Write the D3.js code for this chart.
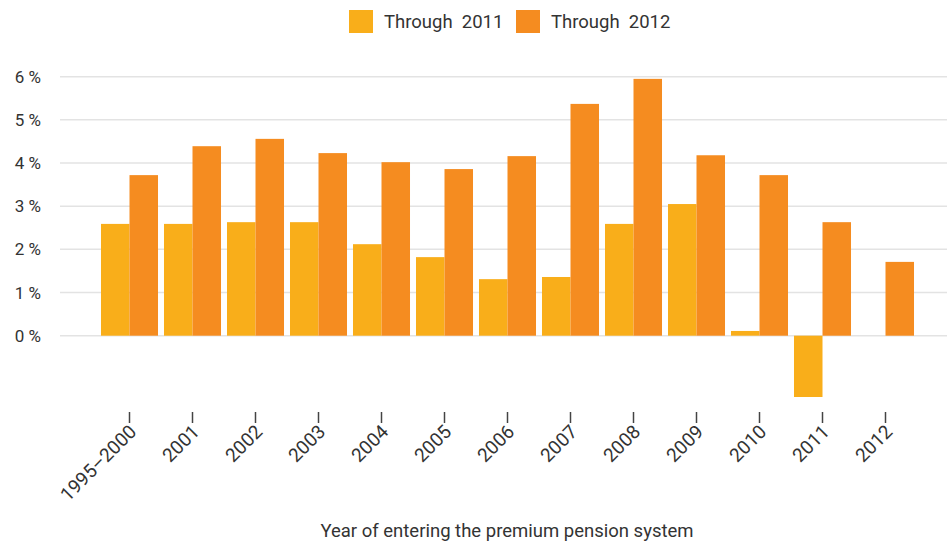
<!DOCTYPE html>
<html><head><meta charset="utf-8">
<script src="https://cdn.jsdelivr.net/npm/d3@7"></script>
<style>body{margin:0;background:#fff}svg{display:block}text{font-family:Roboto,"DejaVu Sans",sans-serif;fill:#333}</style>
</head><body><svg id="c" width="947" height="545"></svg>
<script>
const categories = ["1995–2000","2001","2002","2003","2004","2005","2006","2007","2008","2009","2010","2011","2012"];
const through2011 = [2.59,2.59,2.63,2.63,2.12,1.82,1.31,1.36,2.59,3.05,0.11,-1.42,0];
const through2012 = [3.72,4.39,4.56,4.23,4.02,3.86,4.16,5.37,5.95,4.18,3.72,2.63,1.71];
const seriesNames = ["Through  2011","Through  2012"];
const colors = ["#F9AE1A","#F58C20"];
const yTicks = [0,1,2,3,4,5,6];
const xTitle = "Year of entering the premium pension system";

const svg = d3.select("#c");
const x = d3.scaleBand().domain(categories).range([98,917]).paddingInner(0.095).paddingOuter(0.0475);
const xs = d3.scaleBand().domain([0,1]).range([0,x.bandwidth()]);
const y = d3.scaleLinear().domain([0,6]).range([335.7,76.7]);

// grid
svg.append("g").selectAll("line").data(yTicks).join("line")
  .attr("x1",60).attr("x2",947).attr("y1",d=>y(d)).attr("y2",d=>y(d))
  .attr("stroke","#e3e3e3").attr("stroke-width",1.5);
svg.append("g").selectAll("text").data(yTicks).join("text")
  .attr("x",41).attr("y",d=>y(d)+6).attr("text-anchor","end")
  .attr("font-size",17).text(d=>d+" %");

const series=[through2011,through2012];
series.forEach((vals,si)=>{
  svg.append("g").selectAll("rect").data(categories).join("rect")
    .attr("x",c=>x(c)+xs(si)).attr("width",xs.bandwidth())
    .attr("y",(c,i)=>y(Math.max(0,vals[i])))
    .attr("height",(c,i)=>Math.abs(y(vals[i])-y(0)))
    .attr("fill",colors[si]);
});

// x ticks
const xa = svg.append("g");
xa.selectAll("line").data(categories).join("line")
  .attr("x1",c=>x(c)+x.bandwidth()/2).attr("x2",c=>x(c)+x.bandwidth()/2)
  .attr("y1",412).attr("y2",423).attr("stroke","#444").attr("stroke-width",1.5);
xa.selectAll("text").data(categories).join("text")
  .attr("transform",c=>`translate(${x(c)+x.bandwidth()/2+8},${433}) rotate(-45)`)
  .attr("text-anchor","end").attr("font-size",19).text(c=>c);

svg.append("text").attr("x",507).attr("y",537).attr("text-anchor","middle").attr("font-size",18.5).text(xTitle);

// legend
const lg = svg.append("g");
const lx=[349,516];
seriesNames.forEach((n,i)=>{
  lg.append("rect").attr("x",lx[i]).attr("y",10).attr("width",24).attr("height",23).attr("fill",colors[i]);
  lg.append("text").attr("x",lx[i]+35).attr("y",28).attr("font-size",18.5).attr("xml:space","preserve").text(n);
});
</script></body></html>
